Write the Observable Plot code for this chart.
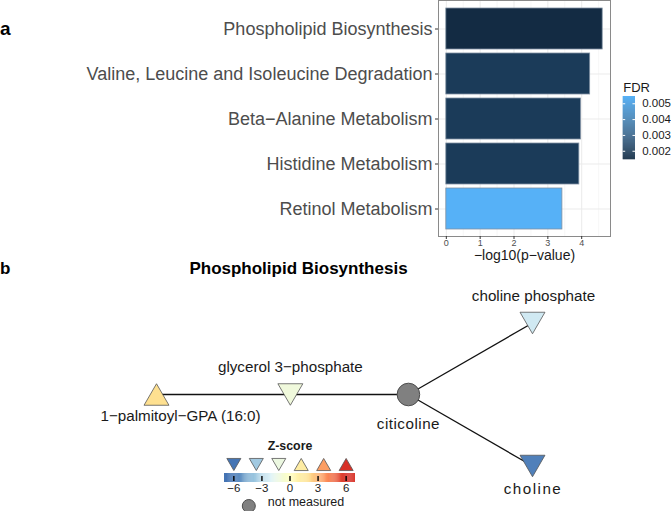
<!DOCTYPE html>
<html>
<head>
<meta charset="utf-8">
<script src="https://cdn.jsdelivr.net/npm/d3@7"></script>
<script src="https://cdn.jsdelivr.net/npm/@observablehq/plot@0.6"></script>
<style>
  html, body { margin: 0; padding: 0; background: #fff; }
  #fig { position: relative; width: 671px; height: 511px; overflow: hidden; font-family: "Liberation Sans", Arial, sans-serif; }
  .abs { position: absolute; }
  .tag { font-weight: bold; color: #000; white-space: nowrap; }
</style>
</head>
<body>
<div id="fig"></div>
<script>
// ---------- Panel a data ----------
const pathways = [
  "Phospholipid Biosynthesis",
  "Valine, Leucine and Isoleucine Degradation",
  "Beta\u2212Alanine Metabolism",
  "Histidine Metabolism",
  "Retinol Metabolism"
];
const negLog10P = [4.62, 4.25, 3.98, 3.93, 3.43];
const fdrValues = [0.00146, 0.0020, 0.0020, 0.0020, 0.00546];
const xTicksA = [0, 1, 2, 3, 4];
const xMinorA = [0.5, 1.5, 2.5, 3.5, 4.5];
const fdrTicks = [0.002, 0.003, 0.004, 0.005];

// ---------- Panel b data ----------
const nodeNames = ["1\u2212palmitoyl\u2212GPA (16:0)", "glycerol 3\u2212phosphate", "citicoline", "choline phosphate", "choline"];
const nodeLayoutX = [0, 0.356, 0.670, 1, 1];
const nodeLayoutY = [0, 0, 0, 0.19, -0.19];
const nodeZ = [2.0, -1.0, null, -2.4, -5.7];   // null = not measured
const edgeFrom = ["1\u2212palmitoyl\u2212GPA (16:0)", "glycerol 3\u2212phosphate", "citicoline", "citicoline"];
const edgeTo   = ["glycerol 3\u2212phosphate", "citicoline", "choline phosphate", "choline"];
const zLegendValues = [-6, -3.6, -1.2, 1.2, 3.6, 6];
const zTicks = [-6, -3, 0, 3, 6];

// ---------- shared ----------
const FONT = '"Liberation Sans", Arial, sans-serif';
const fig = document.getElementById("fig");
function place(el, left, top) {
  const d = document.createElement("div");
  d.className = "abs"; d.style.left = left + "px"; d.style.top = top + "px";
  d.appendChild(el); fig.appendChild(d); return d;
}
function tag(text, left, top, size, width, align) {
  const d = document.createElement("div");
  d.className = "abs tag"; d.textContent = text;
  d.style.left = left + "px"; d.style.top = top + "px";
  d.style.fontSize = size + "px"; d.style.lineHeight = size + "px";
  d.style.fontFamily = FONT;
  if (width) { d.style.width = width + "px"; d.style.textAlign = align || "left"; }
  fig.appendChild(d);
}
const baseStyle = {fontFamily: FONT, background: "transparent", overflow: "visible"};

// custom triangles centred on their bounding box
const triUp = {draw(ctx, size) { const r = Math.sqrt(size / Math.PI), hw = r * 1.3, hh = r * 1.12;
  ctx.moveTo(0, -hh); ctx.lineTo(hw, hh); ctx.lineTo(-hw, hh); ctx.closePath(); }};
const triDown = {draw(ctx, size) { const r = Math.sqrt(size / Math.PI), hw = r * 1.3, hh = r * 1.12;
  ctx.moveTo(0, hh); ctx.lineTo(hw, -hh); ctx.lineTo(-hw, -hh); ctx.closePath(); }};

// ---------- Panel a ----------
const rowsA = pathways.map((p, i) => ({pathway: p, logp: negLog10P[i], fdr: fdrValues[i]}));
const xMax = d3.max(negLog10P);
const fdrColor = {type: "linear", domain: d3.extent(fdrValues), range: ["#132B43", "#56B1F7"], interpolate: "lab"};

const plotA = Plot.plot({
  width: 671, height: 268,
  marginLeft: 438, marginRight: 61, marginTop: 0, marginBottom: 32,
  style: baseStyle,
  x: {domain: [-0.05 * xMax, 1.05 * xMax]},
  y: {domain: pathways, paddingInner: 0.1, paddingOuter: 0.15},
  color: fdrColor,
  marks: [
    Plot.ruleX(xMinorA, {x: d => d, stroke: "#f3f3f3", strokeWidth: 0.7}),
    Plot.ruleX(xTicksA, {x: d => d, stroke: "#ebebeb", strokeWidth: 1}),
    Plot.ruleY(pathways, {y: d => d, stroke: "#ebebeb", strokeWidth: 1}),
    Plot.barX(rowsA, {x: "logp", y: "pathway", fill: "fdr", stroke: "#7f90a2", strokeWidth: 0.8}),
    Plot.frame({stroke: "#8a8a8a", strokeWidth: 1}),
    Plot.axisY({tickSize: 3, tickPadding: 3, fontSize: 18, fill: "#4d4d4d", stroke: "#333", label: null}),
    Plot.axisX({ticks: xTicksA, tickSize: 3, tickPadding: 0, fontSize: 9, fill: "#4d4d4d", stroke: "#333", label: null, tickFormat: d3.format("d")}),
    Plot.text(["\u2212log10(p\u2212value)"], {text: d => d, frameAnchor: "bottom", dy: 23, fontSize: 14, fill: "#1a1a1a"})
  ]
});
place(plotA, 0, 0);

// FDR legend
const fdrExt = d3.extent(fdrValues);
const nSteps = 64;
const fdrSteps = d3.range(nSteps).map(i => fdrExt[0] + (fdrExt[1] - fdrExt[0]) * i / nSteps);
const stepW = (fdrExt[1] - fdrExt[0]) / nSteps;
const plotLegA = Plot.plot({
  width: 71, height: 100,
  marginLeft: 22.7, marginRight: 36, marginTop: 26, marginBottom: 10.7,
  style: baseStyle,
  x: {axis: null},
  y: {domain: fdrExt, axis: null},
  color: fdrColor,
  marks: [
    Plot.barY(fdrSteps, {y1: d => d, y2: d => Math.min(d + stepW * 1.2, fdrExt[1]), fill: d => d + stepW / 2}),
    Plot.ruleY(fdrTicks, {y: d => d, stroke: "white", strokeWidth: 1, insetRight: 9.8}),
    Plot.ruleY(fdrTicks, {y: d => d, stroke: "white", strokeWidth: 1, insetLeft: 9.8}),
    Plot.text(fdrTicks, {y: d => d, text: d => d3.format(".3f")(d), frameAnchor: "right", dx: 6.7, textAnchor: "start", fontSize: 11.5, fill: "#1a1a1a"}),
    Plot.text(["FDR"], {text: d => d, frameAnchor: "top-left", dy: -13.3, textAnchor: "start", fontSize: 13, fill: "#1a1a1a"})
  ]
});
place(plotLegA, 600, 70);

// ---------- Panel b ----------
const nodes = nodeNames.map((n, i) => ({name: n, x: nodeLayoutX[i], y: nodeLayoutY[i], z: nodeZ[i]}));
const byName = new Map(nodes.map(n => [n.name, n]));
const edges = edgeFrom.map((f, i) => ({from: byName.get(f), to: byName.get(edgeTo[i])}));
const zColor = {type: "linear", domain: [-6, -4, -2, 0, 2, 4, 6],
  range: ["#4575b4", "#91bfdb", "#e0f3f8", "#ffffbf", "#fee090", "#fc8d59", "#d73027"], clamp: true};

const labelStyle = [
  {dx: 24, dy: 22},
  {dx: 0, dy: -27},
  {dx: 0, dy: 29.5},
  {dx: 1, dy: -27},
  {dx: 0.5, dy: 23}
];

const plotB = Plot.plot({
  width: 671, height: 261, margin: 0,
  style: baseStyle,
  x: {domain: [0, 1], range: [156, 532], axis: null},
  y: {domain: [-0.19, 0.19], range: [215.5, 72.5], axis: null},
  color: zColor,
  marks: [
    Plot.link(edges, {x1: d => d.from.x, y1: d => d.from.y, x2: d => d.to.x, y2: d => d.to.y, stroke: "#111", strokeWidth: 1.3}),
    Plot.dot(nodes.filter(n => n.z != null && n.z > 0), {x: "x", y: "y", fill: "z", symbol: triUp, r: 9.6, stroke: "#555", strokeWidth: 0.8}),
    Plot.dot(nodes.filter(n => n.z != null && n.z < 0), {x: "x", y: "y", fill: "z", symbol: triDown, r: 9.6, stroke: "#555", strokeWidth: 0.8}),
    Plot.dot(nodes.filter(n => n.z == null), {x: "x", y: "y", r: 11.3, fill: "#808080", stroke: "#4d4d4d", strokeWidth: 1}),
    ...nodes.map((n, i) => Plot.text([n], {x: "x", y: "y", text: "name", dx: labelStyle[i].dx, dy: labelStyle[i].dy, fontSize: 15.2, fill: "#1a1a1a"}))
  ]
});
d3.select(plotB).selectAll("text").each(function() {
  const t = this.textContent;
  if (t === "choline") d3.select(this).attr("letter-spacing", "1.5px");
  if (t === "citicoline") d3.select(this).attr("letter-spacing", "0.5px");
});
place(plotB, 0, 250);

// Z-score legend
const zSteps = d3.range(-7, 7, 0.1);
const plotLegB = Plot.plot({
  width: 180, height: 81,
  marginLeft: 24, marginRight: 25, marginTop: 43, marginBottom: 29,
  style: baseStyle,
  x: {domain: [-7, 7], axis: null},
  color: zColor,
  marks: [
    Plot.barX(zSteps, {x1: d => d, x2: d => Math.min(d + 0.12, 7), fill: d => d + 0.05}),
    Plot.ruleX(zTicks, {x: d => d, stroke: "#000", strokeWidth: 1.4, insetTop: 3, insetBottom: 1}),
    Plot.text(zTicks, {x: d => d, text: d => d3.format("d")(d), frameAnchor: "bottom", dy: 9, fontSize: 11.5, fill: "#1a1a1a"}),
    Plot.dot(zLegendValues.filter(v => v < 0), {x: d => d, fill: d => d, symbol: triDown, r: 5.4, frameAnchor: "top", dy: -9, stroke: "#555", strokeWidth: 0.8}),
    Plot.dot(zLegendValues.filter(v => v > 0), {x: d => d, fill: d => d, symbol: triUp, r: 5.4, frameAnchor: "top", dy: -9, stroke: "#555", strokeWidth: 0.8}),
    Plot.text(["Z-score"], {x: () => 0, text: d => d, frameAnchor: "top", dy: -32, fontSize: 12.4, fontWeight: "bold", fill: "#1a1a1a"}),
    Plot.dot(["not measured"], {frameAnchor: "bottom-left", dx: 24.3, dy: 23.5, r: 6.5, fill: "#808080", stroke: "#4d4d4d", strokeWidth: 1}),
    Plot.text(["not measured"], {text: d => d, frameAnchor: "bottom-left", dx: 43.3, dy: 23.5, textAnchor: "start", fontSize: 12.5, fill: "#1a1a1a"})
  ]
});
place(plotLegB, 200, 430);

// ---------- panel tags and title ----------
tag("a", 0, 18.6, 19);
tag("b", 0, 260, 17);
tag(pathways[0], 0, 259.7, 17, 597, "center");
</script>
</body>
</html>
